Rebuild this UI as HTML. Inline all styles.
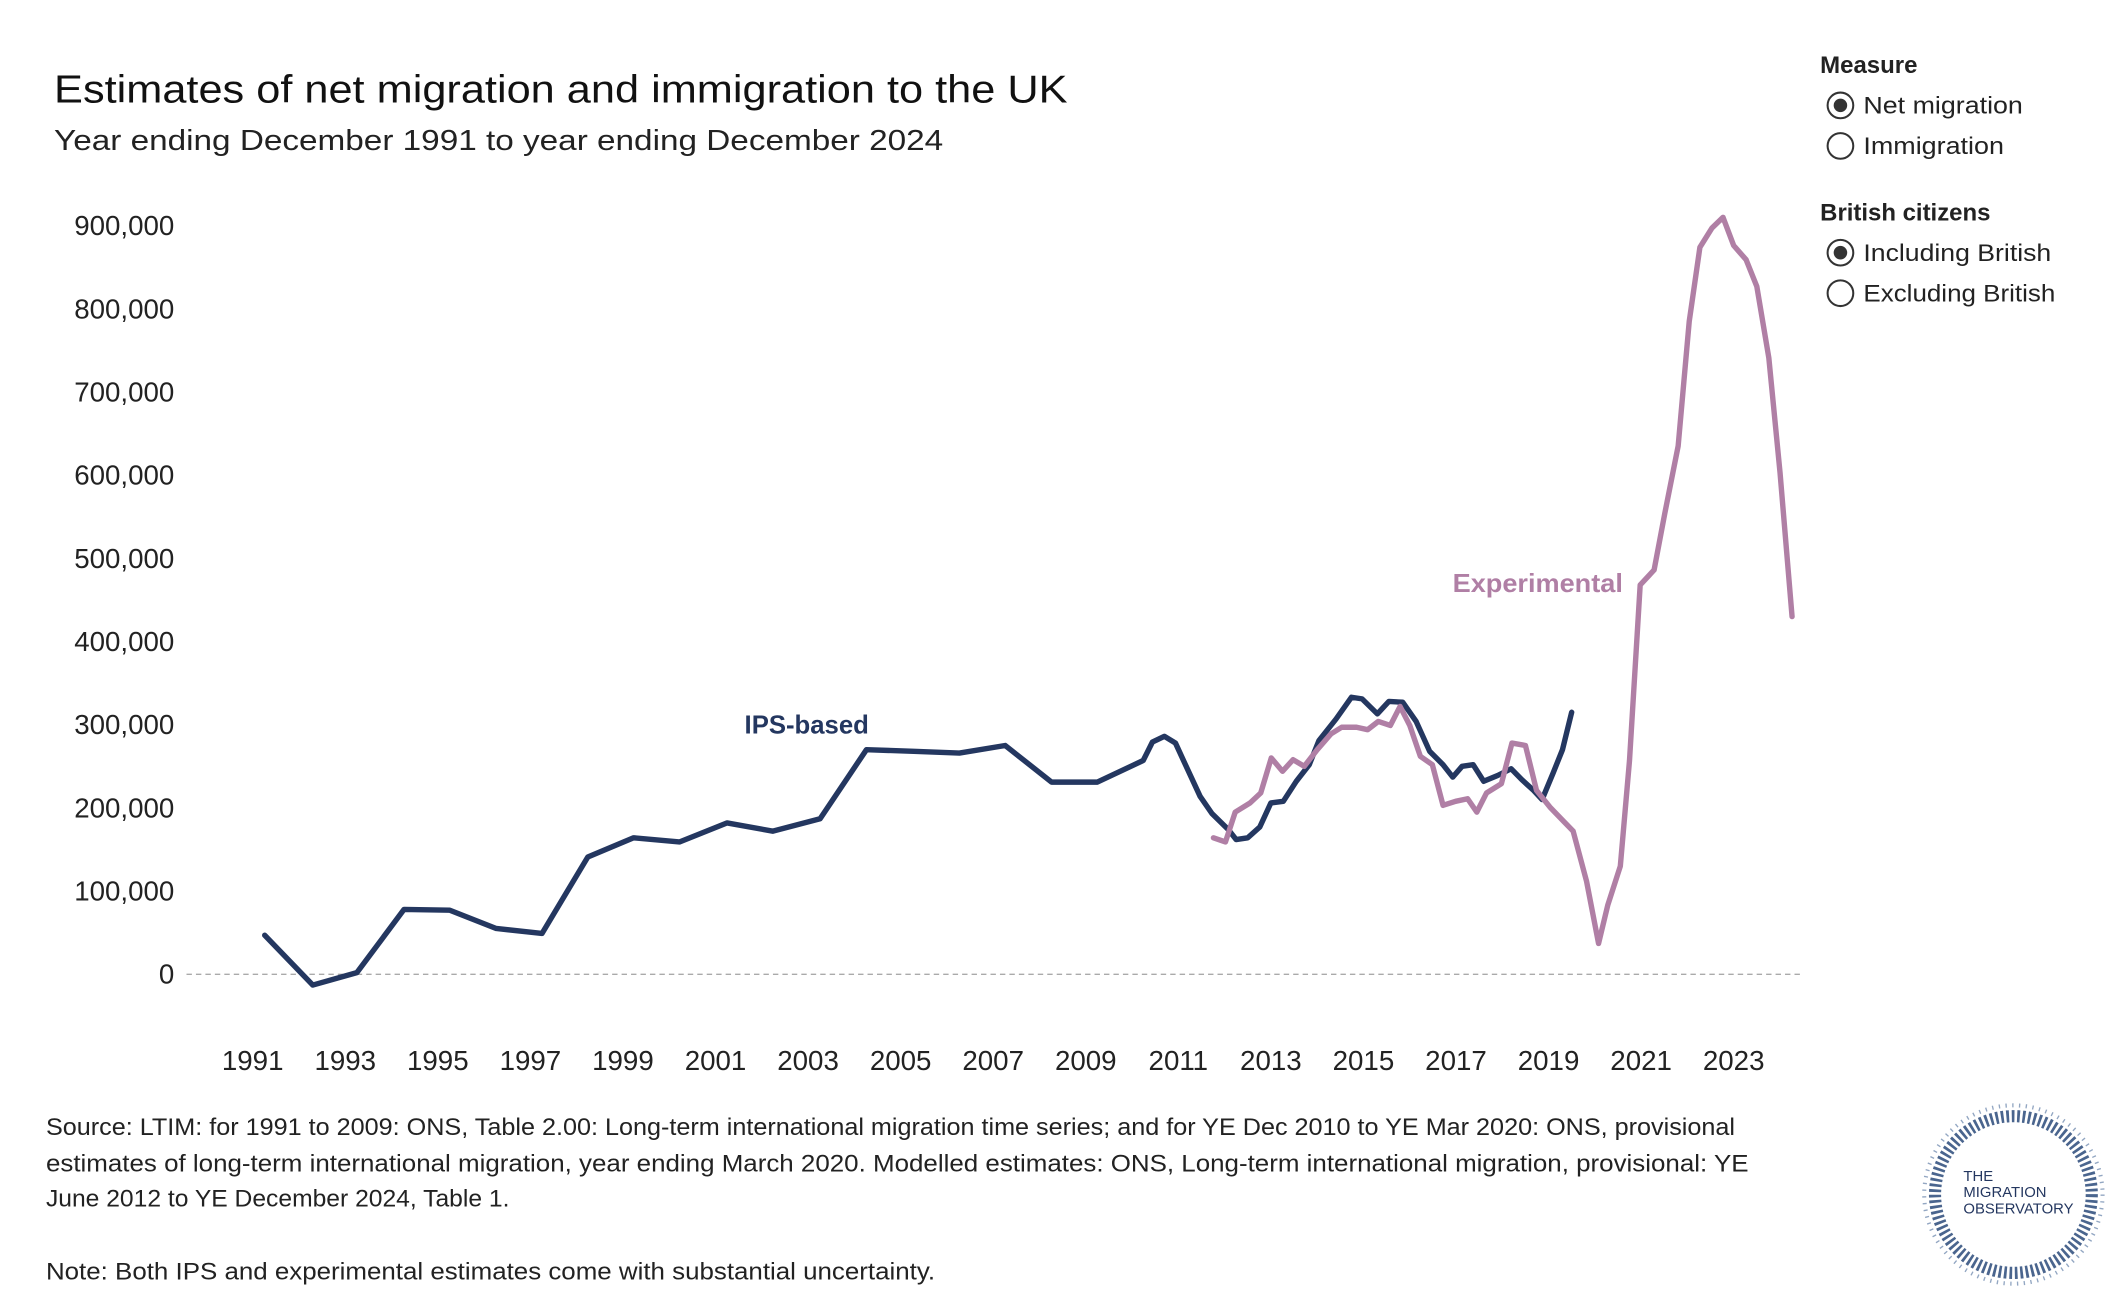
<!DOCTYPE html>
<html><head><meta charset="utf-8"><style>
html,body{margin:0;padding:0;background:#fff;}
svg{display:block;font-family:"Liberation Sans",sans-serif;}
</style></head><body>
<svg id="chart" width="2108" height="1296" viewBox="0 0 1560 959.1" xmlns="http://www.w3.org/2000/svg">
<text x="40" y="76" font-size="29" fill="#111" textLength="750" lengthAdjust="spacingAndGlyphs">Estimates of net migration and immigration to the UK</text>
<text x="40" y="111" font-size="21.5" fill="#222" textLength="658" lengthAdjust="spacingAndGlyphs">Year ending December 1991 to year ending December 2024</text>
<g font-size="17.5" fill="#222">
<text x="1347" y="54" font-weight="bold" textLength="72" lengthAdjust="spacingAndGlyphs">Measure</text>
<g><circle cx="1362" cy="78" r="9.5" fill="#fff" stroke="#333" stroke-width="1.5"/><circle cx="1362" cy="78" r="5" fill="#333"/><text x="1379" y="84" textLength="118" lengthAdjust="spacingAndGlyphs">Net migration</text></g>
<g><circle cx="1362" cy="108" r="9.5" fill="#fff" stroke="#333" stroke-width="1.5"/><text x="1379" y="114" textLength="104" lengthAdjust="spacingAndGlyphs">Immigration</text></g>
<text x="1347" y="163" font-weight="bold" textLength="126" lengthAdjust="spacingAndGlyphs">British citizens</text>
<g><circle cx="1362" cy="187" r="9.5" fill="#fff" stroke="#333" stroke-width="1.5"/><circle cx="1362" cy="187" r="5" fill="#333"/><text x="1379" y="193" textLength="139" lengthAdjust="spacingAndGlyphs">Including British</text></g>
<g><circle cx="1362" cy="217" r="9.5" fill="#fff" stroke="#333" stroke-width="1.5"/><text x="1379" y="223" textLength="142" lengthAdjust="spacingAndGlyphs">Excluding British</text></g>
</g>
<g id="yaxis"></g>
<g id="xaxis"></g>
<line x1="138" x2="1333" y1="721" y2="721" stroke="#aaa" stroke-width="1" stroke-dasharray="4,3"/>
<g id="series"></g>
<text x="551" y="543" font-size="19" font-weight="bold" fill="#243760" textLength="92" lengthAdjust="spacingAndGlyphs">IPS-based</text>
<text x="1075" y="438" font-size="19" font-weight="bold" fill="#b07fa5" textLength="126" lengthAdjust="spacingAndGlyphs">Experimental</text>
<g font-size="17.5" fill="#222">
<text x="34" y="840" textLength="1250" lengthAdjust="spacingAndGlyphs">Source: LTIM: for 1991 to 2009: ONS, Table 2.00: Long-term international migration time series; and for YE Dec 2010 to YE Mar 2020: ONS, provisional</text>
<text x="34" y="867" textLength="1260" lengthAdjust="spacingAndGlyphs">estimates of long-term international migration, year ending March 2020. Modelled estimates: ONS, Long-term international migration, provisional: YE</text>
<text x="34" y="893" textLength="343" lengthAdjust="spacingAndGlyphs">June 2012 to YE December 2024, Table 1.</text>
<text x="34" y="947" textLength="658" lengthAdjust="spacingAndGlyphs">Note: Both IPS and experimental estimates come with substantial uncertainty.</text>
</g>
<g>
<circle cx="1490" cy="884" r="58" fill="none" stroke="#2a4a7a" stroke-width="9" stroke-dasharray="2,2" opacity="0.85"/>
<circle cx="1490" cy="884" r="66" fill="none" stroke="#4a6a9a" stroke-width="3" stroke-dasharray="1,4" opacity="0.6"/>
<text x="1453" y="874" font-size="11" fill="#243760">THE</text>
<text x="1453" y="886" font-size="11" fill="#243760">MIGRATION</text>
<text x="1453" y="898" font-size="11" fill="#243760">OBSERVATORY</text>
</g>
</svg>
<script>
const ipsYears=[1991.26,1992.3,1993.25,1994.27,1995.26,1996.26,1997.25,1998.24,1999.23,2000.22,2001.25,2002.24,2003.26,2004.26,2005.28,2006.27,2007.26,2008.26,2009.25,2010.24,2010.44,2010.7,2010.94,2011.17,2011.47,2011.73,2012.08,2012.25,2012.5,2012.76,2013.0,2013.27,2013.55,2013.83,2014.04,2014.41,2014.74,2014.97,2015.3,2015.55,2015.85,2016.14,2016.43,2016.72,2016.93,2017.13,2017.37,2017.6,2017.9,2018.19,2018.42,2018.68,2018.86,2019.1,2019.3,2019.5];
const ipsValues=[47,-13,2,78,77,55,49,141,164,159,182,172,187,270,268,266,275,231,231,257,279,286,278,250,214,193,174,162,164,177,206,208,232,252,281,307,333,331,313,328,327,304,268,252,237,250,252,232,239,247,234,221,210,242,270,315];
const expYears=[2011.76,2012.02,2012.23,2012.55,2012.78,2013.01,2013.25,2013.48,2013.72,2014.0,2014.3,2014.53,2014.85,2015.09,2015.32,2015.58,2015.79,2016.0,2016.23,2016.49,2016.72,2016.99,2017.25,2017.45,2017.66,2017.98,2018.21,2018.5,2018.74,2019.03,2019.32,2019.53,2019.82,2020.08,2020.28,2020.55,2020.75,2020.98,2021.28,2021.51,2021.8,2022.04,2022.27,2022.53,2022.77,2023.0,2023.27,2023.5,2023.76,2024.0,2024.26];
const expValues=[164,159,195,206,218,260,244,258,250,270,289,297,297,294,304,299,322,299,262,252,203,208,211,195,218,229,278,275,221,201,184,172,112,37,83,130,257,468,486,554,635,785,874,897,910,876,859,827,741,603,430];
const yTicks=[0,100000,200000,300000,400000,500000,600000,700000,800000,900000];
const xTicks=[1991,1993,1995,1997,1999,2001,2003,2005,2007,2009,2011,2013,2015,2017,2019,2021,2023];
const NS="http://www.w3.org/2000/svg";
const xS=y=>187+(y-1991)*34.25;
const yS=v=>721-v/100000*61.56;
const yk=v=>yS(v*1000);
const ya=document.getElementById('yaxis');
yTicks.forEach(t=>{const e=document.createElementNS(NS,'text');


e.setAttribute('x',129);e.setAttribute('y',yS(t)+7);e.setAttribute('text-anchor','end');e.setAttribute('font-size','20.5');e.setAttribute('fill','#222');e.textContent=t.toLocaleString('en-US');ya.appendChild(e);});
const xa=document.getElementById('xaxis');
xTicks.forEach(t=>{const e=document.createElementNS(NS,'text');


e.setAttribute('x',xS(t));e.setAttribute('y',792);e.setAttribute('text-anchor','middle');e.setAttribute('font-size','20.5');e.setAttribute('fill','#222');e.textContent=t;xa.appendChild(e);});
const sg=document.getElementById('series');
function line(xs,vs,color,name){const p=document.createElementNS(NS,'polyline');


p.setAttribute('points',xs.map((x,i)=>xS(x).toFixed(1)+','+yk(vs[i]).toFixed(1)).join(' '));
p.setAttribute('fill','none');p.setAttribute('stroke',color);p.setAttribute('stroke-width','4');p.setAttribute('stroke-linejoin','round');p.setAttribute('stroke-linecap','round');sg.appendChild(p);}
line(ipsYears,ipsValues,'#243760','ips-line');
line(expYears,expValues,'#b07fa5','experimental-line');
</script>
</body></html>
